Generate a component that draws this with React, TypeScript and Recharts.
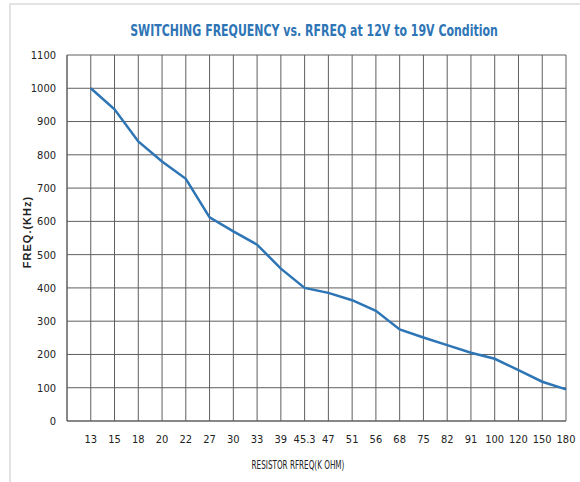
import { useLayoutEffect, useRef, useState } from "react";
import { CartesianGrid, Line, LineChart, XAxis, YAxis } from "recharts";

// resistor values (k ohm) along the x axis, one per category slot
const rfreqLabels = [
  "13", "15", "18", "20", "22", "27", "30", "33", "39", "45.3", "47",
  "51", "56", "68", "75", "82", "91", "100", "120", "150", "180",
];
// switching frequency in kHz
const freqKhz = [
  1000, 937, 840, 780, 728, 612, 570, 530, 458, 400, 385,
  363, 331, 275, 251, 228, 205, 187, 153, 118, 95,
];
const yTicks = [0, 100, 200, 300, 400, 500, 600, 700, 800, 900, 1000, 1100];

const data = rfreqLabels.map((label, i) => ({ slot: i + 1, label, freq: freqKhz[i] }));
const xTicks = data.map((d) => d.slot);

const BLUE = "#2e75b6";
const GRID = "#5f5f5f";
const NARROW = "'Liberation Sans Narrow', 'DejaVu Sans Condensed', 'Liberation Sans', Arial, sans-serif";

// squeeze a text horizontally to a target width (no narrow font is installed)
function FitText({ x, y, width, children, ...rest }: any) {
  const ref = useRef<SVGTextElement>(null);
  const [sx, setSx] = useState(1);
  useLayoutEffect(() => {
    if (!ref.current) return;
    const w = ref.current.getComputedTextLength();
    if (w > 0) setSx(Math.min(1, width / w));
  }, [width]);
  return (
    <text ref={ref} transform={`translate(${x}, ${y}) scale(${sx}, 1)`} textAnchor="middle" {...rest}>
      {children}
    </text>
  );
}

export default function App() {
  return (
    <div style={{ position: "absolute", left: 0, top: 0, width: 580, height: 482, overflow: "hidden", background: "#fff" }}>
      <div
        style={{
          position: "absolute",
          left: 9,
          top: 3,
          width: 700,
          height: 700,
          borderLeft: "2px solid #e3e3e3",
          borderTop: "2px solid #e3e3e3",
        }}
      />
      <LineChart width={580} height={482} data={data} margin={{ top: 55, right: 14, bottom: 0, left: 17 }}>
        <CartesianGrid stroke={GRID} strokeWidth={1} />
        <XAxis
          type="number"
          dataKey="slot"
          domain={[0, 21]}
          ticks={xTicks}
          tickFormatter={(v: number) => rfreqLabels[v - 1] ?? ""}
          interval={0}
          tick={{ fontSize: 11, fill: "#222", fontFamily: NARROW }}
          tickLine={false}
          tickMargin={8}
          axisLine={{ stroke: GRID }}
          height={61}
        />
        <YAxis
          type="number"
          domain={[0, 1100]}
          ticks={yTicks}
          interval={0}
          tick={{ fontSize: 11, fill: "#222", fontFamily: NARROW }}
          tickLine={false}
          tickMargin={5}
          axisLine={{ stroke: GRID }}
          width={50}
        />
        <Line
          type="linear"
          dataKey="freq"
          stroke={BLUE}
          strokeWidth={2.5}
          dot={false}
          isAnimationActive={false}
        />
      </LineChart>
      <svg width={580} height={482} style={{ position: "absolute", left: 0, top: 0, pointerEvents: "none" }}>
        <FitText x={314} y={36} width={368} fill={BLUE} fontSize={16} fontWeight="bold" fontFamily={NARROW}>
          SWITCHING FREQUENCY vs. RFREQ at 12V to 19V Condition
        </FitText>
        <FitText x={298} y={469} width={93} fill="#222" fontSize={12} fontFamily={NARROW}>
          RESISTOR RFREQ(K OHM)
        </FitText>
        <text
          transform="translate(31, 232) rotate(-90)"
          textAnchor="middle"
          fill="#222"
          fontSize={11}
          fontWeight="bold"
          fontFamily="'Liberation Sans', Arial, sans-serif"
          letterSpacing={1}
        >
          FREQ.(KHz)
        </text>
      </svg>
    </div>
  );
}
